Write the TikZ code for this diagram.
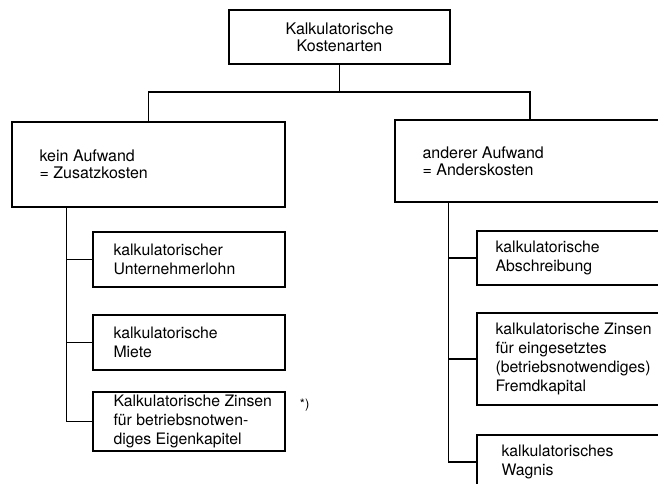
\documentclass[tikz,border=0pt]{standalone}
\usepackage{fontspec}
\setmainfont{TeX Gyre Heros}
\usetikzlibrary{calc}
\begin{document}
\begin{tikzpicture}[x=1pt,y=-1pt,
  box/.style={draw, line width=1.3pt, inner sep=0pt},
  headtxt/.style={align=left, inner sep=0pt, anchor=west, font=\fontsize{16}{17}\selectfont},
  subtxt/.style={align=left, inner sep=0pt, anchor=west, font=\fontsize{15.8}{19}\selectfont},
  link/.style={line width=1.3pt}]
\useasboundingbox (0,0) rectangle (658,483);
\clip (0,0) rectangle (658,483);

% root
\node[box, minimum width=221pt, minimum height=54pt, align=center,
      font=\fontsize{16}{17}\selectfont] (root) at (339.5,37) {Kalkulatorische\\Kostenarten};

% two main groups
\node[box, minimum width=273pt, minimum height=85pt] (zus) at (148.5,164.5) {};
\node[headtxt] (zust) at ([xshift=28pt]zus.west) {kein Aufwand\\= Zusatzkosten};
\node[box, minimum width=270pt, minimum height=82pt] (and) at (530,161) {};
\node[headtxt] (andt) at ([xshift=28pt]and.west) {anderer Aufwand\\= Anderskosten};

% left column
\node[box, minimum width=192pt, minimum height=55pt] (l1) at (189,259.5) {};
\node[subtxt] (l1t) at ([xshift=21pt]l1.west) {kalkulatorischer\\Unternehmerlohn};
\node[box, minimum width=192pt, minimum height=55pt] (l2) at (189,342.5) {};
\node[subtxt] (l2t) at ([xshift=21pt]l2.west) {kalkulatorische\\Miete};
\node[box, minimum width=192pt, minimum height=59pt] (l3) at (189,421.5) {};
\node[subtxt] (l3t) at ([xshift=21pt]l3.west) {Kalkulatorische Zinsen\\für betriebsnotwen-\\diges Eigenkapitel};
\node[inner sep=0pt, font=\fontsize{13}{15}\selectfont] (fn) at ([xshift=19pt,yshift=-14pt]l3.north east) {*)};

% right column
\node[box, minimum width=240pt, minimum height=54pt] (r1) at (597,258) {};
\node[subtxt] (r1t) at ([xshift=19pt]r1.west) {kalkulatorische\\Abschreibung};
\node[box, minimum width=240pt, minimum height=92pt] (r2) at (597,359) {};
\node[subtxt] (r2t) at ([xshift=19pt]r2.west) {kalkulatorische Zinsen\\für eingesetztes\\(betriebsnotwendiges)\\Fremdkapital};
\node[box, minimum width=240pt, minimum height=54pt] (r3) at (597,462) {};
\node[subtxt] (r3t) at ([xshift=25pt]r3.west) {kalkulatorisches\\Wagnis};

% connectors
\coordinate (j) at (339.5,92);
\draw[link] (root.south) -- (root.south |- j);
\draw[link] (zus.north) -- (zus.north |- j) -- (and.north |- j) -- (and.north);

\coordinate (lt) at ($(zus.south west)+(55,0)$);
\draw[link] (lt) |- (l3.west);
\draw[link] (lt |- l1.west) -- (l1.west);
\draw[link] (lt |- l2.west) -- (l2.west);

\coordinate (rt) at ($(and.south west)+(54,0)$);
\draw[link] (rt) |- (r3.west);
\draw[link] (rt |- r1.west) -- (r1.west);
\draw[link] (rt |- r2.west) -- (r2.west);
\end{tikzpicture}
\end{document}
